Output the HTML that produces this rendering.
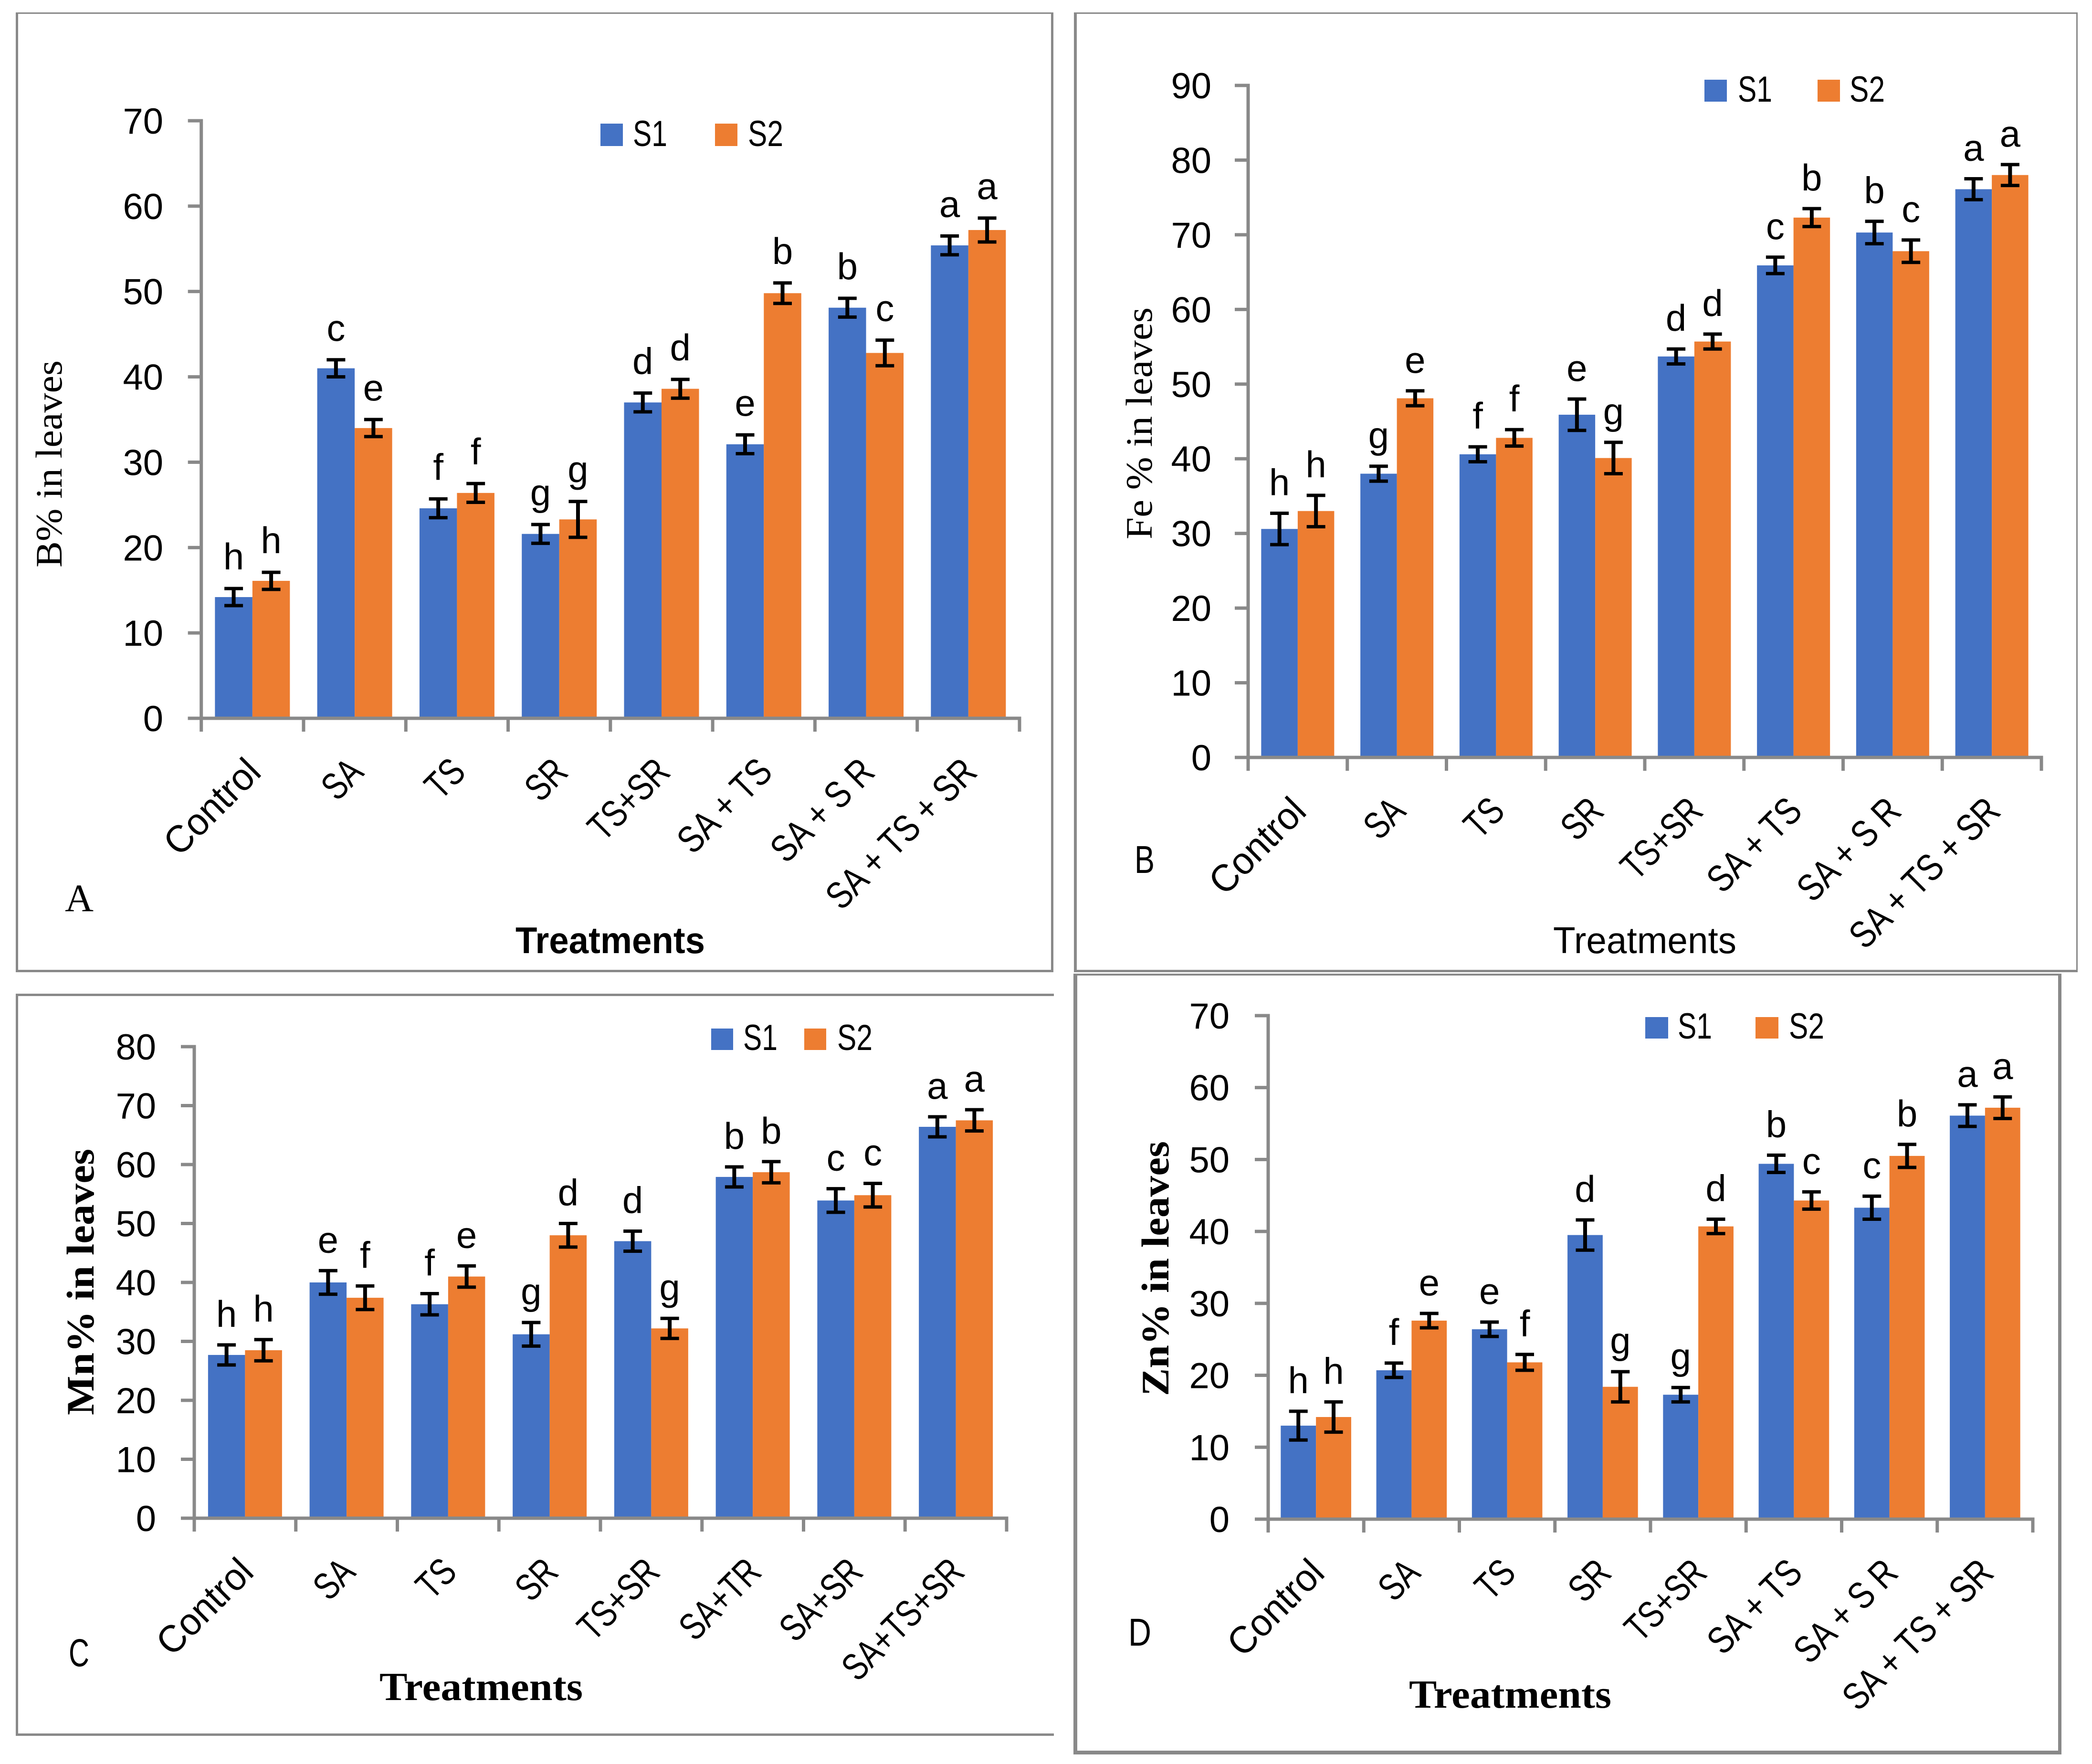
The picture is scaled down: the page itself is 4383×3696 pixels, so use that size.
<!DOCTYPE html>
<html lang="en">
<head>
<meta charset="utf-8">
<title>Nutrient content in leaves by treatment</title>
<style>
html,body{margin:0;padding:0;background:#fff;width:4383px;height:3696px;overflow:hidden}
svg{display:block}
text{fill:#000;font-family:"Liberation Sans",sans-serif}
.serif{font-family:"Liberation Serif",serif}
</style>
</head>
<body>
<svg id="figure" xmlns="http://www.w3.org/2000/svg" width="4383" height="3696" viewBox="0 0 4383 3696"></svg>
<script>
// ---- data ----
const categoriesStandard = ['Control','SA','TS','SR','TS+SR','SA + TS','SA + S R','SA + TS + SR'];
const categoriesMn = ['Control','SA','TS','SR','TS+SR','SA+TR','SA+SR','SA+TS+SR'];

const boronS1 = [14.2,41,24.6,21.6,37,32.1,48.1,55.4];
const boronS2 = [16.1,34,26.4,23.3,38.6,49.8,42.8,57.2];
const boronErrS1 = [1,1,1.1,1.1,1.1,1.1,1.1,1.1];
const boronErrS2 = [1,1,1.1,2.1,1.1,1.2,1.5,1.4];
const boronLettersS1 = ['h','c','f','g','d','e','b','a'];
const boronLettersS2 = ['h','e','f','g','d','b','c','a'];
const boronTicks = [0,10,20,30,40,50,60,70];

const ironS1 = [30.6,38,40.6,45.9,53.7,65.9,70.3,76.1];
const ironS2 = [33,48.1,42.8,40.1,55.7,72.3,67.8,78];
const ironErrS1 = [2.1,1,1,2.1,1,1.1,1.5,1.4];
const ironErrS2 = [2.1,1,1.1,2.1,1,1.2,1.5,1.4];
const ironLettersS1 = ['h','g','f','e','d','c','b','a'];
const ironLettersS2 = ['h','e','f','g','d','b','c','a'];
const ironTicks = [0,10,20,30,40,50,60,70,80,90];

const manganeseS1 = [27.7,40,36.3,31.2,47,57.9,53.9,66.4];
const manganeseS2 = [28.5,37.4,41,48,32.2,58.7,54.8,67.5];
const manganeseErrS1 = [1.7,2,1.8,2,1.7,1.7,2,1.7];
const manganeseErrS2 = [1.8,2,1.8,2,1.7,1.8,2,1.8];
const manganeseLettersS1 = ['h','e','f','g','d','b','c','a'];
const manganeseLettersS2 = ['h','f','e','d','g','b','c','a'];
const manganeseTicks = [0,10,20,30,40,50,60,70,80];

const zincS1 = [13,20.7,26.4,39.5,17.3,49.4,43.3,56.1];
const zincS2 = [14.2,27.6,21.8,18.4,40.7,44.3,50.5,57.2];
const zincErrS1 = [2,1,1,2.1,1,1.2,1.6,1.5];
const zincErrS2 = [2.1,1,1.1,2.1,1,1.2,1.6,1.5];
const zincLettersS1 = ['h','f','e','d','g','b','c','a'];
const zincLettersS2 = ['h','e','f','g','d','c','b','a'];
const zincTicks = [0,10,20,30,40,50,60,70];

// ---- layout ----
const BLUE = '#4472C4', ORANGE = '#ED7D31', AXIS = '#898989', BORDER = '#898989';
const NS = 'http://www.w3.org/2000/svg';
const svg = document.getElementById('figure');

const panels = [
 {id:'a', s1:boronS1, s2:boronS2, e1:boronErrS1, e2:boronErrS2, l1:boronLettersS1, l2:boronLettersS2, ticks:boronTicks, cats:categoriesStandard,
  x0:421.7, x1:2136, y0:1505, yTop:253, tickRight:342, barW:78.5, labelOffX:22, labelOffY:117, letterGap:40,
  legend:{y:259,h:47,b1:1258,t1:1326,b2:1498,t2:1567,w:47},
  yTitle:{text:'B% in leaves',x:129,y0:1189,y1:755,cls:'serif',weight:'normal',size:78},
  xTitle:{text:'Treatments',x0:1080,x1:1477,y:1997,cls:'',weight:'bold',size:78},
  tag:{text:'A',x:136,w:60,y:1909,cls:'serif',size:82}},
 {id:'b', s1:ironS1, s2:ironS2, e1:ironErrS1, e2:ironErrS2, l1:ironLettersS1, l2:ironLettersS2, ticks:ironTicks, cats:categoriesStandard,
  x0:2615, x1:4277, y0:1587, yTop:179, tickRight:2538, barW:76.5, labelOffX:22, labelOffY:117, letterGap:38,
  legend:{y:167,h:46,b1:3571,t1:3641,b2:3808,t2:3875,w:47},
  yTitle:{text:'Fe % in leaves',x:2413,y0:1130,y1:644,cls:'serif',weight:'normal',size:78},
  xTitle:{text:'Treatments',x0:3254,x1:3638,y:1997,cls:'',weight:'normal',size:78},
  tag:{text:'B',x:2377,w:42,y:1829,cls:'',size:82}},
 {id:'c', s1:manganeseS1, s2:manganeseS2, e1:manganeseErrS1, e2:manganeseErrS2, l1:manganeseLettersS1, l2:manganeseLettersS2, ticks:manganeseTicks, cats:categoriesMn,
  x0:407, x1:2109, y0:3181, yTop:2193, tickRight:327, barW:77.5, labelOffX:22, labelOffY:117, letterGap:38,
  legend:{y:2155,h:45,b1:1490,t1:1557,b2:1685,t2:1754,w:46},
  yTitle:{text:'Mn% in leaves',x:196,y0:2965,y1:2407,cls:'serif',weight:'bold',size:82},
  xTitle:{text:'Treatments',x0:795,x1:1221,y:3562,cls:'serif',weight:'bold',size:84},
  tag:{text:'C',x:144,w:43,y:3491,cls:'',size:82}},
 {id:'d', s1:zincS1, s2:zincS2, e1:zincErrS1, e2:zincErrS2, l1:zincLettersS1, l2:zincLettersS2, ticks:zincTicks, cats:categoriesStandard,
  x0:2657, x1:4259, y0:3183, yTop:2128, tickRight:2576, barW:73.8, labelOffX:22, labelOffY:117, letterGap:38,
  legend:{y:2131,h:45,b1:3447,t1:3515,b2:3678,t2:3748,w:48},
  yTitle:{text:'Zn% in leaves',x:2448,y0:2925,y1:2391,cls:'serif',weight:'bold',size:82},
  xTitle:{text:'Treatments',x0:2952,x1:3376,y:3578,cls:'serif',weight:'bold',size:84},
  tag:{text:'D',x:2364,w:48,y:3448,cls:'',size:82}}
];

function addRect(parent,x,y,w,h,fill){
  const r = document.createElementNS(NS,'rect');
  r.setAttribute('x',x); r.setAttribute('y',y);
  r.setAttribute('width',w); r.setAttribute('height',h);
  r.setAttribute('fill',fill);
  parent.appendChild(r);
  return r;
}
function addText(parent,str,x,y,size,anchor){
  const t = document.createElementNS(NS,'text');
  t.setAttribute('x',x); t.setAttribute('y',y);
  t.setAttribute('font-size',size);
  if(anchor) t.setAttribute('text-anchor',anchor);
  t.textContent = str;
  parent.appendChild(t);
  return t;
}
function addGroup(parent,name){
  const g = document.createElementNS(NS,'g');
  
  
  parent.appendChild(g);
  return g;
}

// ---- panel frames ----
const frames = [
 {name:'panel-a-frame', parts:[[33,26,2174,3],[33,26,5,2011],[33,2032,2174,5],[2202,26,5,2011]]},
 {name:'panel-b-frame', parts:[[2250,26,2103,3],[2250,26,6,2011],[2250,2032,2103,5],[4350,26,3,2011]]},
 {name:'panel-c-frame', parts:[[33,2082,2175,5],[33,2082,5,1555],[33,3632,2175,5]]},
 {name:'panel-d-frame', parts:[[2249,2040,2070,4],[2249,2040,8,1636],[2249,3668,2070,8],[4312,2040,7,1636]]}
];
frames.forEach(function(f){
  const g = addGroup(svg,f.name);
  f.parts.forEach(function(p){
    const r = addRect(g,p[0],p[1],p[2],p[3],BORDER);
    
    
  });
});

// ---- chart drawing ----
function drawPanel(p){
  const chart = addGroup(svg,'chart-'+p.id);
  const maxTick = p.ticks[p.ticks.length-1];
  const yScale = function(v){ return p.y0 - (v/maxTick)*(p.y0-p.yTop); };
  const step = (p.x1-p.x0)/p.cats.length;
  const xCenter = function(i){ return p.x0 + step*(i+0.5); };

  // bars
  const barsG = addGroup(chart,'bars-'+p.id);
  function bars(values,side,color,series){
    values.forEach(function(v,i){
      const left = side===0 ? xCenter(i)-p.barW : xCenter(i);
      const bar = addRect(barsG,left,yScale(v),p.barW,p.y0-yScale(v),color);
      
      
    });
  }
  bars(p.s1,0,BLUE,'s1');
  bars(p.s2,1,ORANGE,'s2');

  // axes
  const axisG = addGroup(chart,'axes-'+p.id);
  const yAxis = addRect(axisG,p.x0-3.5,p.yTop-3.5,7,p.y0-p.yTop+3.5+28,AXIS);
  
  
  const xAxis = addRect(axisG,p.x0-28,p.y0-3.5,p.x1-p.x0+31.5,7,AXIS);
  
  
  p.ticks.forEach(function(v){
    const tick = addRect(axisG,p.x0-28,yScale(v)-3.5,28,7,AXIS);
    
    
    const lab = addText(axisG,String(v),p.tickRight,yScale(v)+27,76,'end');
    
    
  });
  for(let i=1;i<=p.cats.length;i++){
    const tick = addRect(axisG,p.x0+step*i-3.5,p.y0,7,28,AXIS);
    
    
  }
  p.cats.forEach(function(c,i){
    const lx = xCenter(i)+p.labelOffX, ly = p.y0+p.labelOffY;
    const t = addText(axisG,c,0,0,80,'end');
    const squeeze = c==='Control' ? 0.96 : (c.indexOf(' ')>=0 ? 0.82 : 0.78);
    t.setAttribute('transform','translate('+lx+','+ly+') rotate(-45) scale('+squeeze+',1)');
    
    
  });

  // error bars and significance letters
  const errG = addGroup(chart,'error-bars-'+p.id);
  const letG = addGroup(chart,'significance-letters-'+p.id);
  function errors(values,errs,letters,side,series){
    values.forEach(function(v,i){
      const cx = side===0 ? xCenter(i)-p.barW/2 : xCenter(i)+p.barW/2;
      const top = yScale(v+errs[i]), bottom = yScale(v-errs[i]);
      const stem = addRect(errG,cx-4,top,8,bottom-top,'#000');
      
      
      const capT = addRect(errG,cx-19.5,top-3.5,39,7,'#000');
      
      
      const capB = addRect(errG,cx-19.5,bottom-3.5,39,7,'#000');
      
      
      const lt = addText(letG,letters[i],cx,top-p.letterGap,78,'middle');
      
      
    });
  }
  errors(p.s1,p.e1,p.l1,0,'s1');
  errors(p.s2,p.e2,p.l2,1,'s2');

  // legend
  const legG = addGroup(chart,'legend-'+p.id);
  const swatch1 = addRect(legG,p.legend.b1,p.legend.y,p.legend.w,p.legend.h,BLUE);
  
  
  const swatch2 = addRect(legG,p.legend.b2,p.legend.y,p.legend.w,p.legend.h,ORANGE);
  
  
  const ls1 = addText(legG,'S1',p.legend.t1,p.legend.y+p.legend.h,76);
  ls1.setAttribute('textLength',72);
  ls1.setAttribute('lengthAdjust','spacingAndGlyphs');
  
  
  const ls2 = addText(legG,'S2',p.legend.t2,p.legend.y+p.legend.h,76);
  ls2.setAttribute('textLength',74);
  ls2.setAttribute('lengthAdjust','spacingAndGlyphs');
  
  

  // y title
  const yt = addText(chart,p.yTitle.text,0,0,p.yTitle.size);
  yt.setAttribute('transform','translate('+p.yTitle.x+','+p.yTitle.y0+') rotate(-90)');
  yt.setAttribute('textLength',p.yTitle.y0-p.yTitle.y1);
  yt.setAttribute('lengthAdjust','spacingAndGlyphs');
  yt.setAttribute('font-weight',p.yTitle.weight);
  yt.setAttribute('class',p.yTitle.cls);
  
  

  // x title
  const xt = addText(chart,p.xTitle.text,p.xTitle.x0,p.xTitle.y,p.xTitle.size);
  xt.setAttribute('textLength',p.xTitle.x1-p.xTitle.x0);
  xt.setAttribute('lengthAdjust','spacingAndGlyphs');
  xt.setAttribute('font-weight',p.xTitle.weight);
  xt.setAttribute('class',p.xTitle.cls);
  
  

  // panel tag
  const tag = addText(chart,p.tag.text,p.tag.x,p.tag.y,p.tag.size);
  tag.setAttribute('textLength',p.tag.w);
  tag.setAttribute('lengthAdjust','spacingAndGlyphs');
  tag.setAttribute('class',p.tag.cls);
  
  
}
panels.forEach(drawPanel);
</script>
</body>
</html>
